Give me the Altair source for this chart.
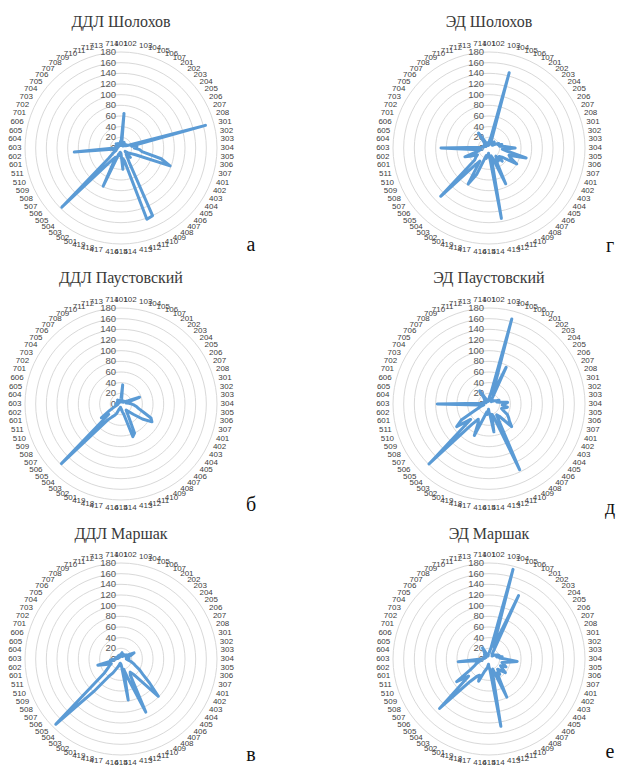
import altair as alt
import pandas as pd

CATEGORIES = [
    "101", "102", "103", "104", "105", "106", "107",
    "201", "202", "203", "204", "205", "206", "207", "208",
    "301", "302", "303", "304", "305", "306", "307",
    "401", "402", "403", "404", "405", "406", "407", "408", "409", "410",
    "411", "412", "413", "414", "415", "416", "417", "418", "419",
    "501", "502", "503", "504", "505", "506", "507", "508", "509", "510", "511",
    "601", "602", "603", "604", "605", "606",
    "701", "702", "703", "704", "705", "706", "707", "708", "709", "710",
    "711", "712", "713", "714",
]

DDL_SHOLOKHOV = [10, 65, 8, 5, 10, 6, 12,
                 8, 5, 10, 6, 8, 12, 10, 15,
                 164, 20, 30, 25, 35, 40, 78,
                 98, 30, 20, 15, 10, 25, 15, 20, 30, 140, 142, 25, 20, 40, 10, 15, 8, 10, 12,
                 79, 20, 25, 40, 157, 30, 20, 15, 10, 12, 8,
                 10, 88, 12, 8, 6, 10,
                 8, 6, 10, 5, 12, 8, 6, 10, 7, 5, 9, 6, 8, 12]
ED_SHOLOKHOV = [10, 15, 20, 146, 10, 12, 8,
                10, 15, 12, 8, 10, 15, 20, 18,
                25, 20, 30, 49, 25, 35, 72,
                40, 45, 60, 30, 25, 35, 20, 30, 25, 74, 20, 15, 134, 20, 15, 10, 15, 20, 15,
                55, 78, 30, 45, 128, 35, 30, 25, 35, 48, 20,
                15, 30, 90, 15, 10, 12,
                8, 10, 6, 10, 8, 12, 15, 34, 12, 8, 6, 10, 5, 8]
DDL_PAUSTOVSKY = [10, 36, 5, 8, 5, 6, 4,
                  5, 6, 5, 8, 6, 10, 15, 37,
                  12, 10, 15, 20, 25, 30, 35,
                  45, 62, 67, 49, 30, 20, 15, 20, 30, 60, 65, 20, 15, 10, 8, 10, 6, 8, 10,
                  20, 25, 30, 40, 158, 30, 45, 25, 15, 10, 8,
                  6, 8, 10, 6, 5, 8,
                  5, 6, 4, 8, 5, 6, 10, 8, 5, 4, 6, 5, 8, 6]
ED_PAUSTOVSKY = [10, 15, 20, 165, 20, 76, 10,
                 8, 10, 6, 8, 10, 12, 15, 20,
                 15, 20, 35, 30, 25, 35, 30,
                 25, 30, 40, 45, 50, 60, 30, 25, 40, 136, 25, 20, 53, 20, 15, 10, 20, 15, 25,
                 65, 40, 35, 50, 159, 45, 74, 60, 30, 20, 15,
                 10, 20, 97, 15, 10, 8,
                 10, 6, 8, 10, 6, 12, 15, 30, 10, 8, 6, 5, 8, 6]
DDL_MARSHAK = [8, 10, 12, 6, 8, 5, 10,
               6, 8, 10, 12, 10, 15, 27, 20,
               10, 12, 15, 10, 12, 15, 20,
               25, 30, 40, 50, 70, 99, 40, 30, 35, 110, 40, 20, 78, 15, 10, 12, 8, 10, 15,
               20, 30, 40, 80, 173, 40, 30, 25, 20, 30, 45,
               15, 20, 10, 8, 6, 10,
               5, 6, 8, 5, 6, 4, 8, 6, 5, 8, 6, 5, 8, 6]
ED_MARSHAK = [10, 15, 20, 174, 25, 131, 15,
              10, 12, 8, 10, 12, 15, 18, 20,
              15, 25, 20, 30, 53, 35, 25,
              30, 35, 25, 30, 40, 30, 25, 35, 30, 79, 20, 25, 128, 20, 15, 10, 15, 20, 25,
              46, 35, 40, 55, 131, 50, 74, 40, 30, 25, 20,
              15, 58, 15, 10, 8, 10,
              8, 10, 6, 8, 10, 12, 10, 15, 24, 10, 8, 6, 8, 10]

TITLES = ["ДДЛ Шолохов", "ЭД Шолохов", "ДДЛ Паустовский",
          "ЭД Паустовский", "ДДЛ Маршак", "ЭД Маршак"]
LETTERS = ["а", "г", "б", "д", "в", "е"]
RING_TICKS = [0, 20, 40, 60, 80, 100, 120, 140, 160, 180]

N = len(CATEGORIES)
RMAX = 180
R_PX = 96.0
UNIT = RMAX / R_PX  # data units per pixel

LINE_COLOR = "#5B9BD5"
GRID_COLOR = "#D9D9D9"
LABEL_COLOR = "#595959"


def panel(values, title, letter, width, height, xleft, ytop, letter_dx, letter_dy):
    xs = alt.Scale(domain=[-xleft * UNIT, (width - xleft) * UNIT], nice=False, zero=False)
    ys = alt.Scale(domain=[-(height - ytop) * UNIT, ytop * UNIT], nice=False, zero=False)
    X = lambda f: alt.X(f, type="quantitative", scale=xs, axis=None)
    Y = lambda f: alt.Y(f, type="quantitative", scale=ys, axis=None)

    # rings (72-gon gridlines like Excel)
    ring_rows = [{"ring": r, "k": k} for r in RING_TICKS[1:] for k in range(N + 1)]
    rings = alt.Chart(pd.DataFrame(ring_rows)).transform_calculate(
        th=f"datum.k * 2 * PI / {N}",
        x="datum.ring * sin(datum.th)",
        y="datum.ring * cos(datum.th)",
    ).mark_line(color=GRID_COLOR, strokeWidth=1).encode(
        x=X("x"), y=Y("y"), detail="ring:N", order="k:Q"
    )

    # series (closed polygon)
    rows = [{"idx": i, "cat": c, "value": v} for i, (c, v) in enumerate(zip(CATEGORIES, values))]
    rows.append({"idx": N, "cat": CATEGORIES[0], "value": values[0]})
    series = alt.Chart(pd.DataFrame(rows)).transform_calculate(
        th=f"datum.idx * 2 * PI / {N}",
        x="datum.value * sin(datum.th)",
        y="datum.value * cos(datum.th)",
    ).mark_line(color=LINE_COLOR, strokeWidth=3, strokeJoin="round").encode(
        x=X("x"), y=Y("y"), order="idx:Q"
    )

    # value tick labels
    ticks = alt.Chart(pd.DataFrame({"t": RING_TICKS})).transform_calculate(
        x="0", y="datum.t", lab="'' + datum.t"
    ).mark_text(align="right", baseline="middle", dx=-5, fontSize=9.5,
                font="Liberation Sans", color=LABEL_COLOR).encode(
        x=X("x"), y=Y("y"), text="lab:N"
    )

    # category labels
    cat_df = pd.DataFrame({"idx": list(range(N)), "cat": CATEGORIES})
    cat_base = alt.Chart(cat_df).transform_calculate(
        th=f"datum.idx * 2 * PI / {N}",
        s="sin(datum.th)",
        c="cos(datum.th)",
        rr=f"{RMAX} + {3.5 * UNIT} + {4.5 * UNIT} * abs(cos(datum.th))",
        x="datum.rr * datum.s",
        y="datum.rr * datum.c",
    )
    lab_kw = dict(baseline="middle", fontSize=8, font="Liberation Sans", color="#404040")
    cat_right = cat_base.transform_filter("datum.s > 0.1").mark_text(align="left", **lab_kw).encode(
        x=X("x"), y=Y("y"), text="cat:N")
    cat_left = cat_base.transform_filter("datum.s < -0.1").mark_text(align="right", **lab_kw).encode(
        x=X("x"), y=Y("y"), text="cat:N")
    cat_mid = cat_base.transform_filter("abs(datum.s) <= 0.1").mark_text(align="center", **lab_kw).encode(
        x=X("x"), y=Y("y"), text="cat:N")

    # panel title and letter
    ann = pd.DataFrame({"title": [title], "letter": [letter]})
    title_t = alt.Chart(ann).transform_calculate(
        x="0", y=f"{(ytop - 14) * UNIT}"
    ).mark_text(align="center", baseline="middle", fontSize=16, font="Liberation Serif",
                color="#3a3a3a").encode(x=X("x"), y=Y("y"), text="title:N")
    letter_t = alt.Chart(ann).transform_calculate(
        x=f"{letter_dx * UNIT}", y=f"{-letter_dy * UNIT}"
    ).mark_text(align="center", baseline="middle", fontSize=20, font="Liberation Serif",
                color="#111111").encode(x=X("x"), y=Y("y"), text="letter:N")

    return alt.layer(rings, ticks, cat_right, cat_left, cat_mid, series, title_t, letter_t).properties(
        width=width, height=height
    )


SERIES = [DDL_SHOLOKHOV, ED_SHOLOKHOV, DDL_PAUSTOVSKY, ED_PAUSTOVSKY, DDL_MARSHAK, ED_MARSHAK]
ROW_H = [256, 256, 241]
ROW_TOP = [140, 140, 139]
LET_DY = [[97, 98], [101, 104], [96, 93]]

rows = []
for r in range(3):
    left = panel(SERIES[2 * r], TITLES[2 * r], LETTERS[2 * r], 300, ROW_H[r], 112, ROW_TOP[r], 130, LET_DY[r][0])
    right = panel(SERIES[2 * r + 1], TITLES[2 * r + 1], LETTERS[2 * r + 1], 240, ROW_H[r], 112, ROW_TOP[r], 121, LET_DY[r][1])
    rows.append(alt.hconcat(left, right, spacing=67))

chart = alt.vconcat(*rows, spacing=0).properties(padding=0).configure_view(stroke=None)

chart.save("out.html", embed_options={"renderer": "svg", "actions": False})
